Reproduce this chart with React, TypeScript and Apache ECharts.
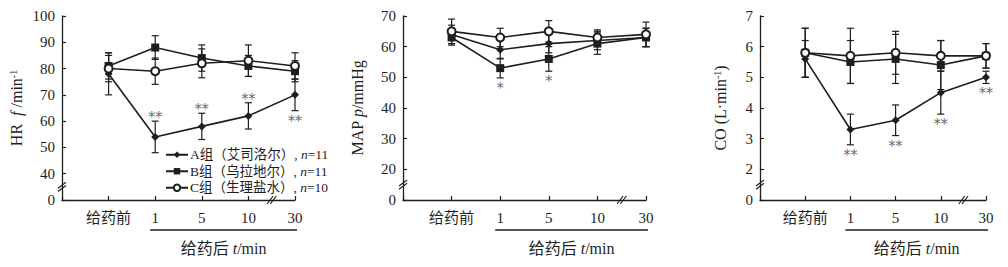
import React, { useEffect, useRef } from "react";
import * as echarts from "echarts";

// ---------- data ----------
const categories = ["给药前", "1", "5", "10", "30"];
const groupNames = ["A组（艾司洛尔）", "B组（乌拉地尔）", "C组（生理盐水）"];
const groupN = [11, 11, 10];

// HR f/min-1
const hrA = [78, 54, 58, 62, 70];
const hrAErr = [8, 6, 5, 5, 6];
const hrB = [81, 88, 84, 81, 79];
const hrBErr = [5, 4.5, 5, 4, 4];
const hrC = [80, 79, 82, 83, 81];
const hrCErr = [5, 5, 5.5, 6, 5];
const hrStars = [[1, "**", "top"], [2, "**", "top"], [3, "**", "top"], [4, "**", "bottom"]];

// MAP p/mmHg
const mapA = [64, 59, 61, 62, 63];
const mapAErr = [3, 3, 3, 3, 3];
const mapB = [63, 53, 56, 61, 63];
const mapBErr = [2.5, 3.2, 4, 3.5, 3];
const mapC = [65, 63, 65, 63, 64];
const mapCErr = [4, 3, 3.5, 2.5, 4];
const mapStars = [[1, "*", "bottom"], [2, "*", "bottom"]];

// CO L/min
const coA = [5.6, 3.3, 3.6, 4.5, 5.0];
const coAErr = [0.6, 0.5, 0.5, 0.7, 0.2];
const coB = [5.8, 5.5, 5.6, 5.4, 5.7];
const coBErr = [0.8, 0.7, 0.8, 0.8, 0.4];
const coC = [5.8, 5.7, 5.8, 5.7, 5.7];
const coCErr = [0.8, 0.9, 0.7, 0.5, 0.4];
const coStars = [[1, "**", "bottom"], [2, "**", "bottom"], [3, "**", "bottom"], [4, "**", "bottom"]];

// y-axis ranges (lowest value is labelled "0" after the axis break)
const hrAxis = [30, 100, 10];
const mapAxis = [10, 70, 10];
const coAxis = [1, 7, 1];

// ---------- layout / style ----------
const FONT = '"Liberation Serif", "Times New Roman", "Noto Sans CJK SC", serif';
const INK = "#1e1e1e";
const STAR = "#3a3a3a";
const grids = [
  { left: 62, top: 16, width: 233, height: 184 },
  { left: 403, top: 16, width: 243, height: 184 },
  { left: 760, top: 16, width: 226, height: 184 },
];
const yNames = ["HR  {i|f} /min{sup|-1}", "MAP {i|p}/mmHg", "CO (L·min{sup|-1})"];
const yNameGaps = [38, 38, 32];
const symbols = ["diamond", "rect", "emptyCircle"];
const symbolSizes = [8, 8, 8];

const panels = [
  { means: [hrA, hrB, hrC], errs: [hrAErr, hrBErr, hrCErr], axis: hrAxis, stars: hrStars, starGroup: 0 },
  { means: [mapA, mapB, mapC], errs: [mapAErr, mapBErr, mapCErr], axis: mapAxis, stars: mapStars, starGroup: 1 },
  { means: [coA, coB, coC], errs: [coAErr, coBErr, coCErr], axis: coAxis, stars: coStars, starGroup: 0 },
];

const renderErr = (params: any, api: any) => {
  const x = api.value(0);
  const lo = api.coord([x, api.value(1)]);
  const hi = api.coord([x, api.value(2)]);
  const c = 3.5;
  const style = { stroke: INK, lineWidth: 1.2 };
  return {
    type: "group",
    children: [
      { type: "line", shape: { x1: lo[0], y1: lo[1], x2: hi[0], y2: hi[1] }, style },
      { type: "line", shape: { x1: hi[0] - c, y1: hi[1], x2: hi[0] + c, y2: hi[1] }, style },
      { type: "line", shape: { x1: lo[0] - c, y1: lo[1], x2: lo[0] + c, y2: lo[1] }, style },
    ],
  };
};

export default function App() {
  const ref = useRef<HTMLDivElement>(null);
  useEffect(() => {
    if (!ref.current) return;
    const chart = echarts.init(ref.current, undefined, { renderer: "svg" });
    const xAxis: any[] = [];
    const yAxis: any[] = [];
    const series: any[] = [];

    panels.forEach((p, gi) => {
      xAxis.push({
        gridIndex: gi,
        type: "value",
        min: -1,
        max: 4,
        interval: 1,
        splitLine: { show: false },
        axisLine: { onZero: false, lineStyle: { color: INK, width: 1.3 } },
        axisTick: { inside: true, length: 4, lineStyle: { color: INK, width: 1.2 } },
        axisLabel: {
          formatter: (v: number) => (v >= 0 ? categories[v] ?? "" : ""),
          color: INK,
          fontSize: 15,
          fontFamily: FONT,
          margin: 10,
        },
      });
      yAxis.push({
        gridIndex: gi,
        type: "value",
        min: p.axis[0],
        max: p.axis[1],
        interval: p.axis[2],
        name: yNames[gi],
        nameLocation: "middle",
        nameGap: yNameGaps[gi],
        nameTextStyle: {
          color: INK,
          fontSize: 16,
          fontFamily: FONT,
          rich: {
            i: { fontStyle: "italic", fontSize: 16, fontFamily: FONT, color: INK },
            sup: { fontSize: 10, fontFamily: FONT, color: INK, verticalAlign: "top" },
          },
        },
        splitLine: { show: false },
        axisLine: { show: true, onZero: false, lineStyle: { color: INK, width: 1.3 } },
        axisTick: { show: true, inside: true, length: 4, lineStyle: { color: INK, width: 1.2 } },
        axisLabel: {
          formatter: (v: number) => (v === p.axis[0] ? "0" : String(v)),
          color: INK,
          fontSize: 15,
          fontFamily: FONT,
          margin: 7,
          showMinLabel: true,
          showMaxLabel: true,
        },
      });
      p.means.forEach((m, si) => {
        series.push({
          type: "custom",
          xAxisIndex: gi,
          yAxisIndex: gi,
          renderItem: renderErr,
          encode: { x: 0, y: [1, 2] },
          data: m.map((v, i) => [i, v - p.errs[si][i], v + p.errs[si][i]]),
          z: 1,
          silent: true,
        });
      });
      p.means.forEach((m, si) => {
        series.push({
          type: "line",
          name: groupNames[si],
          xAxisIndex: gi,
          yAxisIndex: gi,
          data: m.map((v, i) => [i, v]),
          symbol: symbols[si],
          symbolSize: symbolSizes[si],
          showAllSymbol: true,
          color: INK,
          lineStyle: { color: INK, width: 1.6 },
          itemStyle: { color: INK, borderWidth: si === 2 ? 1.3 : 0 },
          z: 3 + si,
        });
      });
      const g = p.starGroup;
      series.push({
        type: "scatter",
        xAxisIndex: gi,
        yAxisIndex: gi,
        symbolSize: 0,
        silent: true,
        color: STAR,
        itemStyle: { color: STAR },
        data: p.stars.map((s: any) => {
          const i = s[0];
          const v = s[2] === "top" ? p.means[g][i] + p.errs[g][i] : p.means[g][i] - p.errs[g][i];
          return {
            value: [i, v],
            label: {
              show: true,
              formatter: s[1],
              position: s[2],
              distance: s[2] === "top" ? -3 : 3,
              fontSize: 14,
              fontFamily: '"DejaVu Serif", serif',
              color: STAR,
            },
          };
        }),
        z: 6,
      });
    });

    chart.setOption({
      animation: false,
      color: [INK],
      grid: grids,
      xAxis,
      yAxis,
      series,
      legend: {
        data: groupNames,
        orient: "vertical",
        left: 160,
        top: 143,
        itemWidth: 22,
        itemHeight: 8,
        itemGap: 3,
        formatter: (name: string) => `${name}, {i|n}=${groupN[groupNames.indexOf(name)]}`,
        textStyle: {
          color: INK,
          fontSize: 13.5,
          fontFamily: FONT,
          padding: [0, 0, 0, -3],
          rich: {
            i: { fontStyle: "italic", fontSize: 13.5, fontFamily: FONT, color: INK },
          },
        },
        selectedMode: false,
      },
    });

    // decorations: axis breaks, underline and "给药后 t/min"
    const graphic: any[] = [];
    const ls = { stroke: INK, lineWidth: 1.2 };
    panels.forEach((p, gi) => {
      const yb = chart.convertToPixel({ gridIndex: gi }, [-1, p.axis[0] + p.axis[2] / 2]) as number[];
      const xb = chart.convertToPixel({ gridIndex: gi }, [3.5, p.axis[0]]) as number[];
      [-1.6, 1.6].forEach((d) => {
        graphic.push({ type: "line", shape: { x1: yb[0] - 4, y1: yb[1] + 3 + d, x2: yb[0] + 4, y2: yb[1] - 3 + d }, style: ls, z: 100 });
        graphic.push({ type: "line", shape: { x1: xb[0] - 3 + d, y1: xb[1] + 4, x2: xb[0] + 3 + d, y2: xb[1] - 4 }, style: ls, z: 100 });
      });
      const a = chart.convertToPixel({ gridIndex: gi }, [1, p.axis[0]]) as number[];
      const b = chart.convertToPixel({ gridIndex: gi }, [4, p.axis[0]]) as number[];
      const x1 = a[0] - 5;
      const x2 = b[0] + 2;
      graphic.push({ type: "line", shape: { x1, y1: 230, x2, y2: 230 }, style: { stroke: INK, lineWidth: 1.6 }, z: 100 });
      graphic.push({
        type: "text",
        x: (x1 + x2) / 2,
        y: 248,
        style: {
          text: "给药后 {i|t}/min",
          fill: INK,
          fontSize: 16,
          fontFamily: FONT,
          align: "center",
          verticalAlign: "middle",
          rich: { i: { fontStyle: "italic", fontSize: 16, fontFamily: FONT, fill: INK } },
        },
        z: 100,
      });
    });
    chart.setOption({ graphic });

    return () => chart.dispose();
  }, []);
  return (
    <div
      ref={ref}
      style={{ position: "fixed", left: 0, top: 0, width: 1008, height: 267, background: "#fff" }}
    />
  );
}
